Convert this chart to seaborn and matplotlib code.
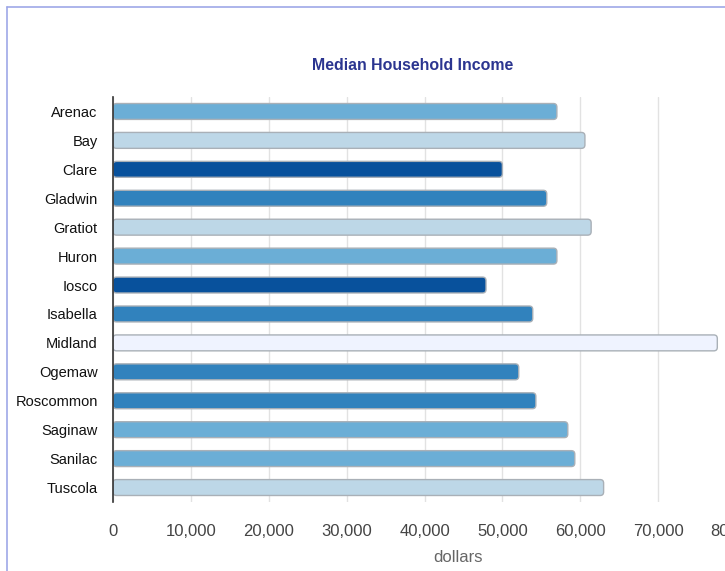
import matplotlib
matplotlib.use("Agg")
import matplotlib.pyplot as plt
import seaborn as sns
import pandas as pd
from matplotlib.patches import FancyBboxPatch
from matplotlib.lines import Line2D

counties = ["Arenac", "Bay", "Clare", "Gladwin", "Gratiot", "Huron", "Iosco",
            "Isabella", "Midland", "Ogemaw", "Roscommon", "Saginaw", "Sanilac", "Tuscola"]
income = [57000, 60600, 50000, 55700, 61400, 57000, 47900,
          53900, 77600, 52100, 54300, 58400, 59300, 63000]
bar_colors = ["#6baed6", "#bdd7e7", "#08519c", "#3182bd", "#bdd7e7", "#6baed6", "#08519c",
              "#3182bd", "#eff3ff", "#3182bd", "#3182bd", "#6baed6", "#6baed6", "#bdd7e7"]
x_ticks = [0, 10000, 20000, 30000, 40000, 50000, 60000, 70000, 80000]
x_labels = ["0", "10,000", "20,000", "30,000", "40,000", "50,000", "60,000", "70,000", "80,000"]

sns.set_theme(style="white")
plt.rcParams["font.family"] = ["Liberation Sans", "DejaVu Sans"]

W, H = 725, 571
fig = plt.figure(figsize=(W / 100, H / 100), dpi=100)
left, right, top, bottom = 113, 736, 97, 502
ax = fig.add_axes([left / W, 1 - bottom / H, (right - left) / W, (bottom - top) / H])

df = pd.DataFrame({"county": counties, "income": income})
sns.barplot(data=df, x="income", y="county", hue="county", palette=bar_colors,
            legend=False, width=0.55, ax=ax, saturation=1)

ax.set_xlim(0, 80000)
ax.set_ylim(len(counties) - 0.5, -0.5)

# replace rectangles with rounded bars
px_x = (right - left) / 80000.0
px_y = (bottom - top) / len(counties)
r_px = 3.5
rx = r_px / px_x
ry = r_px / px_y
for p in list(ax.patches):
    x0, y0 = p.get_x(), p.get_y()
    w, h = p.get_width(), p.get_height()
    fc = p.get_facecolor()
    p.remove()
    fb = FancyBboxPatch((x0, y0), w, h,
                        boxstyle=f"round,pad=0,rounding_size={rx}",
                        mutation_aspect=ry / rx,
                        facecolor=fc, edgecolor="#a9b0b7", linewidth=1.0, zorder=3)
    ax.add_patch(fb)

ax.set_xticks(x_ticks)
ax.set_xticklabels(x_labels, fontsize=12, color="#444444")
ax.tick_params(axis="x", length=0, pad=16)
ax.tick_params(axis="y", length=0, pad=11, labelsize=10.5, labelcolor="#111111")
ax.grid(axis="x", color="#e2e2e2", linewidth=1, zorder=0)
ax.set_axisbelow(True)
for s in ["top", "right", "bottom"]:
    ax.spines[s].set_visible(False)
ax.spines["left"].set_color("#333333")
ax.spines["left"].set_linewidth(1.2)
ax.spines["left"].set_zorder(4)
ax.set_xlabel("")
ax.set_ylabel("")

fig.text(413 / W, 1 - 65 / H, "Median Household Income", ha="center", va="center",
         fontsize=11.4, fontweight="bold", color="#2b3590")
fig.text(458 / W, 1 - 557 / H, "dollars", ha="center", va="center",
         fontsize=12, color="#666666")

# outer frame lines
fig.add_artist(Line2D([7 / W, 1], [1 - 7 / H, 1 - 7 / H], transform=fig.transFigure,
                      color="#9ea8e8", linewidth=1.2))
fig.add_artist(Line2D([7 / W, 7 / W], [1 - 7 / H, 0], transform=fig.transFigure,
                      color="#9ea8e8", linewidth=1.2))

fig.savefig("out.png", dpi=100)
